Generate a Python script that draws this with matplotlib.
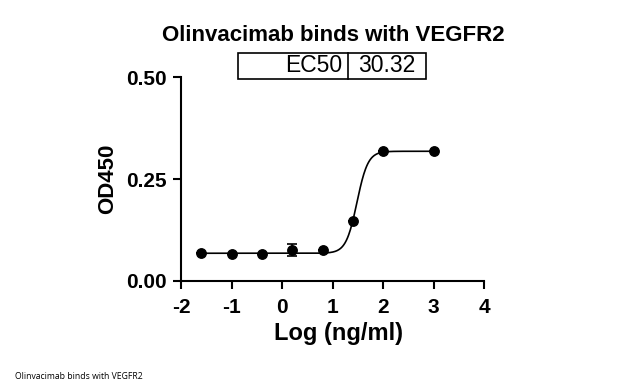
import numpy as np
import matplotlib.pyplot as plt
from matplotlib.patches import Rectangle

# data
log_conc = [-1.6, -1.0, -0.4, 0.2, 0.8, 1.4, 2.0, 3.0]
od450 = [0.069, 0.067, 0.067, 0.076, 0.075, 0.148, 0.318, 0.318]
od_err = [0.0, 0.0, 0.0, 0.014, 0.0, 0.0, 0.0, 0.0]

# 4PL fit parameters
bottom = 0.068
top = 0.318
ec50 = 30.32
hill = 4.0

plt.rcParams['font.family'] = ['Liberation Sans', 'DejaVu Sans']
plt.rcParams['axes.unicode_minus'] = False

fig = plt.figure(figsize=(6.2, 3.9), dpi=100)
ax = fig.add_axes([0.292, 0.2795, 0.489, 0.523])

x_fit = np.linspace(min(log_conc), max(log_conc), 400)
y_fit = bottom + (top - bottom) / (1 + 10 ** ((np.log10(ec50) - x_fit) * hill))
ax.plot(x_fit, y_fit, color='black', lw=1.2)
ax.errorbar(log_conc, od450, yerr=od_err, fmt='o', color='black', ms=6.8,
            capsize=3.5, elinewidth=1.2, capthick=1.2)

ax.set_xlim(-2, 4)
ax.set_ylim(0, 0.5)
ax.set_xticks([-2, -1, 0, 1, 2, 3, 4])
ax.set_yticks([0, 0.25, 0.5])
ax.set_yticklabels(['0.00', '0.25', '0.50'])
for s in ['top', 'right']:
    ax.spines[s].set_visible(False)
for s in ['left', 'bottom']:
    ax.spines[s].set_linewidth(1.5)
ax.tick_params(direction='out', length=6, width=1.5, labelsize=15, pad=4)
ax.tick_params(axis='x', pad=6)
for lab in ax.get_xticklabels() + ax.get_yticklabels():
    lab.set_fontweight('bold')
ax.set_xlabel('Log (ng/ml)', fontsize=17, fontweight='bold', labelpad=5)
ax.xaxis.set_label_coords(0.518, -0.2)
ax.set_ylabel('OD450', fontsize=16, fontweight='bold', labelpad=6)

fig.text(0.537, 0.91, 'Olinvacimab binds with VEGFR2', ha='center', va='center',
         fontsize=16, fontweight='bold')

# EC50 table
x0, x1, x2 = 238 / 620, 348 / 620, 426 / 620
yb, yt = 1 - 79 / 390, 1 - 53 / 390
fig.patches.append(Rectangle((x0, yb), x2 - x0, yt - yb, transform=fig.transFigure,
                             fill=False, lw=1.2, ec='black'))
fig.lines.append(plt.Line2D([x1, x1], [yb, yt], transform=fig.transFigure,
                            color='black', lw=1.2))
fig.text(x1 - 0.01, (yb + yt) / 2, 'EC50', ha='right', va='center', fontsize=16.5)
fig.text((x1 + x2) / 2, (yb + yt) / 2, '30.32', ha='center', va='center', fontsize=16.5)

fig.text(0.024, 0.035, 'Olinvacimab binds with VEGFR2', ha='left', va='center',
         fontsize=6.2, family=['Open Sans', 'DejaVu Sans'])

fig.savefig('out.png', dpi=100)
